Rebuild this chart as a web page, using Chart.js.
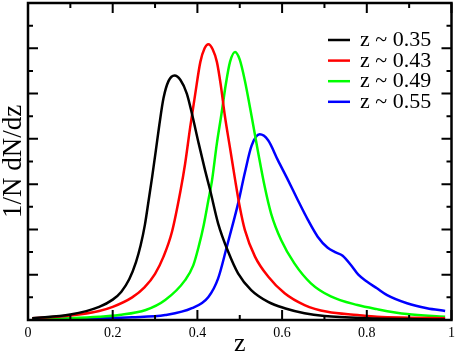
<!DOCTYPE html>
<html>
<head>
<meta charset="utf-8">
<script src="https://cdn.jsdelivr.net/npm/chart.js@4/dist/chart.umd.min.js"></script>
<style>
  html, body { margin: 0; padding: 0; background: #fff; }
  #wrap { width: 460px; height: 353px; }
</style>
</head>
<body>
<div id="wrap"><canvas id="dndz"></canvas></div>
<script>
// redshift samples and normalised 1/N dN/dz
const zBlack = [0.01, 0.1, 0.168, 0.2, 0.22, 0.239, 0.255, 0.266, 0.276, 0.285, 0.293, 0.302, 0.31, 0.32, 0.332, 0.346, 0.36, 0.375, 0.387, 0.403, 0.418, 0.43, 0.449, 0.473, 0.496, 0.527, 0.567, 0.606, 0.653, 0.7, 0.8, 0.9, 0.985];
const nBlack = [0.04, 0.12, 0.29, 0.45, 0.62, 0.9, 1.28, 1.65, 2.1, 2.65, 3.15, 3.75, 4.3, 4.9, 5.28, 5.4, 5.3, 5.0, 4.56, 3.9, 3.31, 2.87, 2.13, 1.5, 1.03, 0.66, 0.4, 0.26, 0.15, 0.09, 0.04, 0.02, 0.01];

const zRed = [0.01, 0.1, 0.168, 0.2, 0.246, 0.275, 0.3, 0.32, 0.34, 0.36, 0.371, 0.383, 0.395, 0.407, 0.417, 0.426, 0.436, 0.446, 0.455, 0.465, 0.477, 0.489, 0.5, 0.512, 0.536, 0.567, 0.606, 0.653, 0.707, 0.778, 0.824, 0.9, 0.985];
const nRed = [0.04, 0.1, 0.2, 0.29, 0.5, 0.72, 1.02, 1.4, 1.95, 2.85, 3.45, 4.26, 5.0, 5.7, 6.0, 6.09, 5.98, 5.7, 5.2, 4.5, 3.8, 3.1, 2.5, 1.99, 1.4, 0.96, 0.59, 0.33, 0.18, 0.11, 0.07, 0.05, 0.04];

const zGreen = [0.01, 0.1, 0.168, 0.215, 0.278, 0.324, 0.371, 0.39, 0.403, 0.415, 0.426, 0.434, 0.446, 0.457, 0.467, 0.477, 0.489, 0.5, 0.512, 0.528, 0.543, 0.559, 0.574, 0.598, 0.629, 0.668, 0.715, 0.778, 0.824, 0.895, 0.985];
const nGreen = [0.02, 0.04, 0.07, 0.11, 0.22, 0.44, 0.88, 1.2, 1.62, 2.1, 2.65, 3.05, 3.9, 4.56, 5.2, 5.7, 5.92, 5.75, 5.29, 4.5, 3.72, 2.94, 2.35, 1.76, 1.25, 0.81, 0.52, 0.33, 0.24, 0.13, 0.07];

const zBlue = [0.01, 0.168, 0.246, 0.324, 0.387, 0.426, 0.449, 0.469, 0.486, 0.496, 0.512, 0.528, 0.547, 0.567, 0.59, 0.614, 0.637, 0.661, 0.684, 0.707, 0.725, 0.743, 0.762, 0.78, 0.8, 0.824, 0.848, 0.895, 0.942, 0.985];
const nBlue = [0.02, 0.04, 0.06, 0.11, 0.26, 0.51, 0.92, 1.6, 2.2, 2.57, 3.25, 3.85, 4.1, 3.97, 3.53, 3.09, 2.65, 2.21, 1.84, 1.6, 1.5, 1.42, 1.22, 1.0, 0.85, 0.7, 0.55, 0.37, 0.26, 0.2];

const seriesLabels = ['z ~ 0.35', 'z ~ 0.43', 'z ~ 0.49', 'z ~ 0.55'];
const seriesColors = ['#000000', '#ff0000', '#00ff00', '#0000ff'];
const zArrays = [zBlack, zRed, zGreen, zBlue];
const nArrays = [nBlack, nRed, nGreen, nBlue];

const serif = "'Liberation Serif', 'Times New Roman', serif";

// box round the plot, with in-pointing ticks on all 4 sides
const frame = {
  id: 'frame',
  afterDatasetsDraw(chart) {
    const { ctx, chartArea: a, scales: { x, y } } = chart;
    ctx.save();
    ctx.strokeStyle = '#000';
    ctx.lineWidth = 2;
    ctx.beginPath();
    for (let i = 0; i <= 10; i++) {
      const px = x.getPixelForValue(i / 10);
      const len = i % 2 === 0 ? 10 : 5;
      ctx.moveTo(px, a.bottom); ctx.lineTo(px, a.bottom - len);
      ctx.moveTo(px, a.top); ctx.lineTo(px, a.top + len);
    }
    for (let i = 0; i <= 14; i++) {
      const py = y.getPixelForValue(i / 2);
      const len = i % 2 === 0 ? 10 : 5;
      ctx.moveTo(a.left, py); ctx.lineTo(a.left + len, py);
      ctx.moveTo(a.right, py); ctx.lineTo(a.right - len, py);
    }
    ctx.stroke();
    ctx.lineWidth = 2.5;
    ctx.strokeRect(a.left, a.top, a.right - a.left, a.bottom - a.top);
    ctx.restore();
  }
};

// legend inside the top-right corner
const insideLegend = {
  id: 'insideLegend',
  afterDatasetsDraw(chart) {
    const { ctx } = chart;
    ctx.save();
    ctx.font = '22px ' + serif;
    ctx.textBaseline = 'middle';
    ctx.fillStyle = '#000';
    chart.data.datasets.forEach((ds, i) => {
      const yy = 40 + i * 20.6;
      ctx.strokeStyle = ds.borderColor;
      ctx.lineWidth = 2.5;
      ctx.beginPath();
      ctx.moveTo(328, yy);
      ctx.lineTo(350, yy);
      ctx.stroke();
      ctx.fillText(ds.label, 360, yy + 0.5);
    });
    ctx.restore();
  }
};

new Chart(document.getElementById('dndz'), {
  type: 'line',
  data: {
    datasets: seriesLabels.map((label, i) => ({
      label: label,
      data: zArrays[i].map((z, j) => ({ x: z, y: nArrays[i][j] })),
      borderColor: seriesColors[i],
      borderWidth: 2.5,
      pointRadius: 0,
      fill: false,
      cubicInterpolationMode: 'monotone'
    }))
  },
  options: {
    responsive: true,
    maintainAspectRatio: false,
    animation: false,
    layout: { padding: { top: 3, right: 5, left: 0, bottom: 0 } },
    plugins: { legend: { display: false }, tooltip: { enabled: false } },
    scales: {
      x: {
        type: 'linear',
        min: 0,
        max: 1,
        grid: { display: false, drawTicks: false },
        border: { display: false },
        ticks: {
          stepSize: 0.2,
          autoSkip: false,
          maxRotation: 0,
          padding: 5,
          color: '#000',
          font: { family: serif, size: 14 },
          callback: v => String(+v.toFixed(1))
        },
        title: {
          display: true,
          text: 'z',
          color: '#000',
          font: { family: serif, size: 26, lineHeight: 1 },
          padding: { top: 0, bottom: -4 }
        },
        afterFit(scale) { scale.height = 33; }
      },
      y: {
        min: 0,
        max: 7,
        grid: { display: false, drawTicks: false },
        border: { display: false },
        ticks: { display: false },
        title: {
          display: true,
          text: '1/N dN/dz',
          color: '#000',
          font: { family: serif, size: 27, lineHeight: 1 },
          padding: { top: 0, bottom: 0 }
        },
        afterFit(scale) { scale.width = 28; }
      }
    }
  },
  plugins: [frame, insideLegend]
});
</script>
</body>
</html>
